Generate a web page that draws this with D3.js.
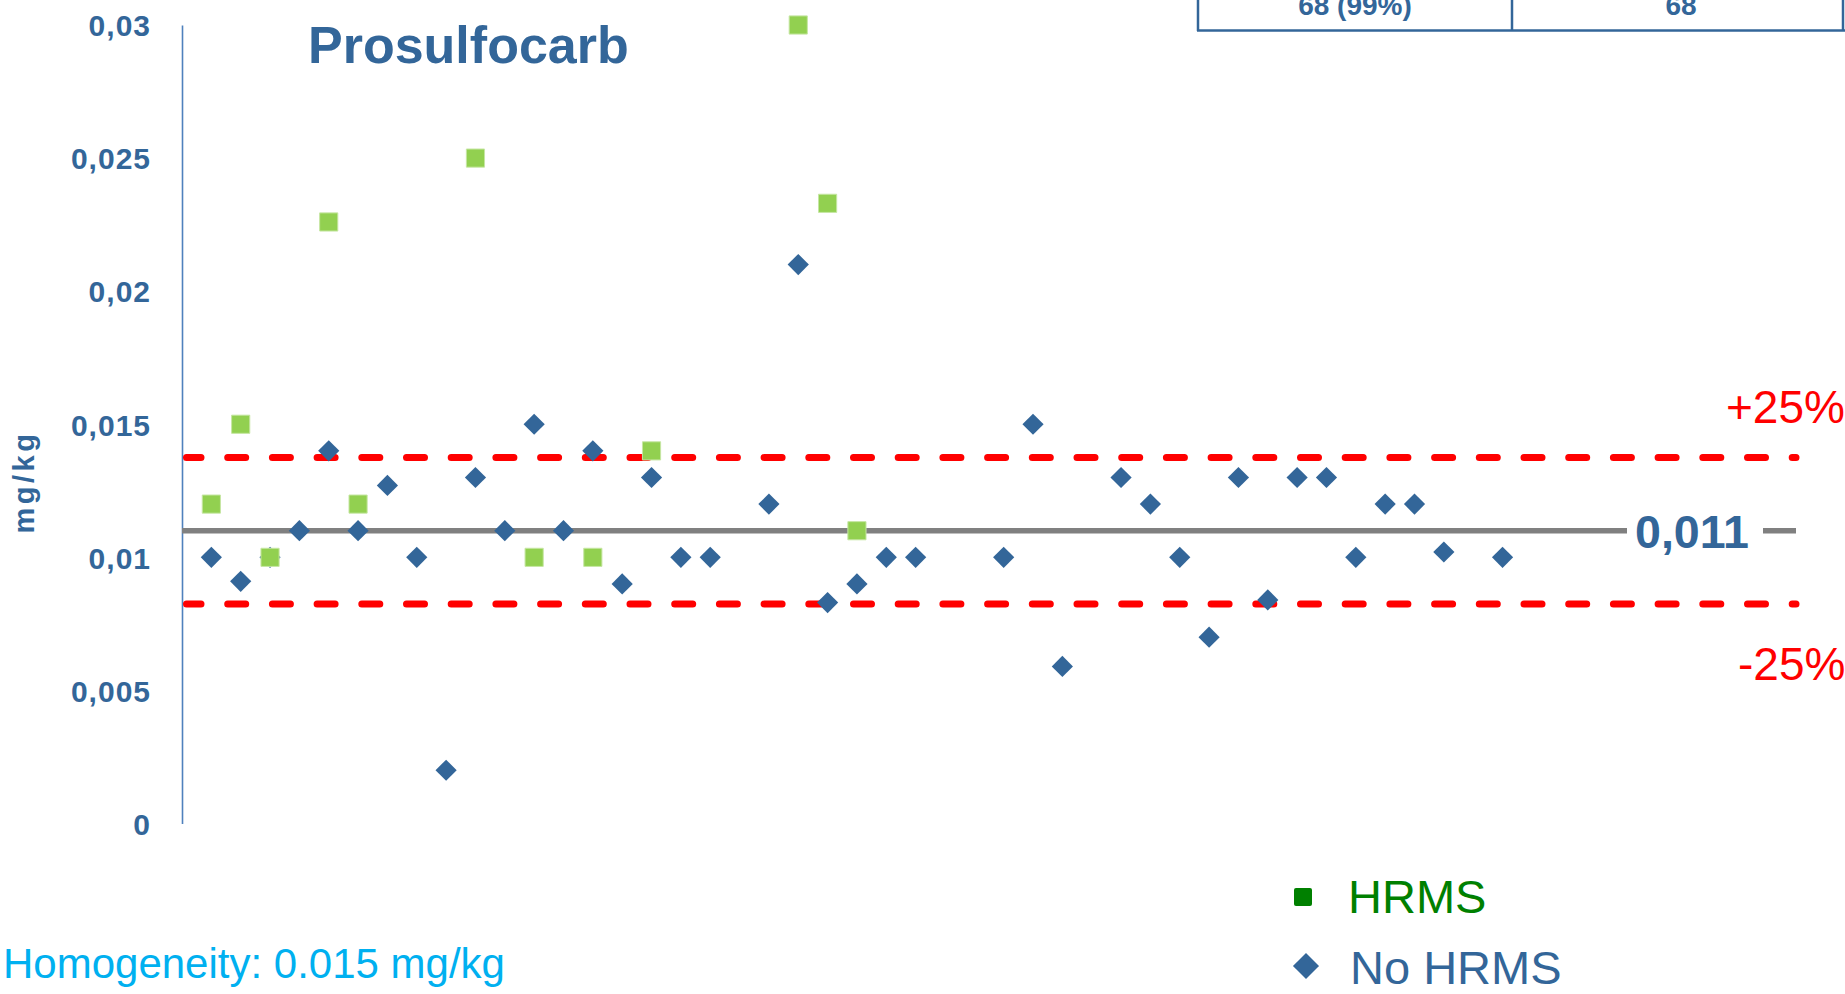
<!DOCTYPE html>
<html><head><meta charset="utf-8">
<script src="https://cdn.jsdelivr.net/npm/d3@7"></script>
<style>html,body{margin:0;padding:0;background:#fff;overflow:hidden}</style>
</head><body>
<svg id="chart" width="1845" height="994"></svg>
<script>
const chartTitle = "Prosulfocarb";
const yAxisTitle = "mg/kg";
const yTickValues = [0, 0.005, 0.01, 0.015, 0.02, 0.025, 0.03];
const yTickLabels = ["0", "0,005", "0,01", "0,015", "0,02", "0,025", "0,03"];
const hrmsLabs = [1, 2, 3, 5, 6, 10, 12, 14, 16, 21, 22, 23];
const hrmsValues = [0.012, 0.015, 0.010, 0.0226, 0.012, 0.025, 0.010, 0.010, 0.014, 0.030, 0.0233, 0.011];
const noHrmsLabs = [1, 2, 3, 4, 5, 6, 7, 8, 9, 10, 11, 12, 13, 14, 15, 16, 17, 18, 20, 21, 22, 23, 24, 25, 28, 29, 30, 32, 33, 34, 35, 36, 37, 38, 39, 40, 41, 42, 43, 45];
const noHrmsValues = [0.010, 0.0091, 0.010, 0.011, 0.014, 0.011, 0.0127, 0.010, 0.002, 0.013, 0.011, 0.015, 0.011, 0.014, 0.009, 0.013, 0.010, 0.010, 0.012, 0.021, 0.0083, 0.009, 0.010, 0.010, 0.010, 0.015, 0.0059, 0.013, 0.012, 0.010, 0.007, 0.013, 0.0084, 0.013, 0.013, 0.010, 0.012, 0.012, 0.0102, 0.010];
const assignedValue = 0.011;
const assignedLabel = "0,011";
const limitValues = [0.01375, 0.00825];
const limitLabels = ["+25%", "-25%"];
const legendLabels = ["HRMS", "No HRMS"];
const tableCells = ["68 (99%)", "68"];
const footnote = "Homogeneity: 0.015 mg/kg";

const BLUE = "#336699";
const svg = d3.select("#chart");
const x = d3.scaleLinear().domain([0, 55]).range([182, 1796]);
const y = d3.scaleLinear().domain([0, 0.03]).range([823.5, 25]);
const FONT = "'Liberation Sans', Arial, sans-serif";

// table fragment at top right
const tbl = svg.append("g");
[1198, 1512, 1843].forEach(xx => tbl.append("line").attr("x1", xx).attr("x2", xx).attr("y1", -5).attr("y2", 31)
  .attr("stroke", BLUE).attr("stroke-width", 2.5));
tbl.append("line").attr("x1", 1197).attr("x2", 1846).attr("y1", 30.5).attr("y2", 30.5).attr("stroke", BLUE).attr("stroke-width", 2.5);
tbl.selectAll("text.cell").data(tableCells).join("text").attr("class", "cell")
  .attr("x", (d, i) => [1355, 1681][i]).attr("y", 15).attr("text-anchor", "middle")
  .attr("font-family", FONT).attr("font-weight", "bold").attr("font-size", 28).attr("fill", BLUE).text(d => d);

// y axis
const yAxis = d3.axisLeft(y).tickValues(yTickValues).tickFormat((d, i) => yTickLabels[i]).tickSize(0).tickPadding(31);
const ag = svg.append("g").attr("transform", "translate(182,0)").call(yAxis);
ag.select(".domain").attr("stroke", "#4F81BD").attr("stroke-width", 1.6);
ag.selectAll(".tick text").attr("font-family", FONT).attr("font-weight", "bold").attr("font-size", 30)
  .attr("letter-spacing", 1).attr("fill", BLUE).attr("dy", "0.36em");

svg.append("text").attr("transform", "translate(34,482) rotate(-90)").attr("text-anchor", "middle")
  .attr("font-family", FONT).attr("font-weight", "bold").attr("font-size", 29).attr("letter-spacing", 3.5)
  .attr("fill", BLUE).text(yAxisTitle);

// title
svg.append("text").attr("x", 308).attr("y", 63).attr("font-family", FONT).attr("font-weight", "bold")
  .attr("font-size", 52).attr("fill", BLUE).text(chartTitle);

// assigned value line
svg.append("line").attr("x1", x(0)).attr("x2", x(55)).attr("y1", y(assignedValue)).attr("y2", y(assignedValue))
  .attr("stroke", "#808080").attr("stroke-width", 5.5);
svg.append("rect").attr("x", 1627).attr("y", y(assignedValue) - 30).attr("width", 136).attr("height", 60).attr("fill", "#fff");
svg.append("text").attr("x", 1635).attr("y", 548).attr("font-family", FONT).attr("font-weight", "bold").attr("font-size", 47)
  .attr("textLength", 114).attr("lengthAdjust", "spacingAndGlyphs")
  .attr("fill", BLUE).text(assignedLabel);

// limit lines
svg.selectAll("line.limit").data(limitValues).join("line").attr("class", "limit")
  .attr("x1", x(0) + 4.5).attr("x2", x(55)).attr("y1", d => y(d)).attr("y2", d => y(d))
  .attr("stroke", "#FF0000").attr("stroke-width", 7).attr("stroke-linecap", "round")
  .attr("stroke-dasharray", "18 26.7").attr("stroke-dashoffset", 3.5);
svg.selectAll("text.limitlab").data(limitLabels).join("text").attr("class", "limitlab")
  .attr("x", (d, i) => [1726, 1738][i]).attr("y", (d, i) => [423, 680][i])
  .attr("font-family", FONT).attr("font-size", 46).attr("fill", "#FF0000").text(d => d);

// No HRMS diamonds
const diamond = d3.symbol().type(d3.symbolSquare).size(225);
svg.append("g").selectAll("path").data(noHrmsLabs.map((l, i) => ({ l, v: noHrmsValues[i] }))).join("path")
  .attr("d", diamond).attr("transform", d => `translate(${x(d.l)},${y(d.v)}) rotate(45)`)
  .attr("fill", BLUE);

// HRMS squares
const square = d3.symbol().type(d3.symbolSquare).size(330);
svg.append("g").selectAll("path").data(hrmsLabs.map((l, i) => ({ l, v: hrmsValues[i] }))).join("path")
  .attr("d", square).attr("transform", d => `translate(${x(d.l)},${y(d.v)})`)
  .attr("fill", "#92D050").attr("stroke", "#C6E6A3").attr("stroke-width", 1);

// legend
svg.append("rect").attr("x", 1294).attr("y", 888).attr("width", 18).attr("height", 18).attr("rx", 2).attr("fill", "#008000");
svg.append("path").attr("d", d3.symbol().type(d3.symbolSquare).size(340)).attr("transform", "translate(1306,966) rotate(45)").attr("fill", BLUE);
svg.selectAll("text.leg").data(legendLabels).join("text").attr("class", "leg")
  .attr("x", (d, i) => [1348, 1350][i]).attr("y", (d, i) => [913, 984][i])
  .attr("font-family", FONT).attr("font-size", 47).attr("fill", (d, i) => i ? BLUE : "#008000").text(d => d);

// footnote
svg.append("text").attr("x", 3).attr("y", 978).attr("font-family", FONT).attr("font-size", 42)
  .attr("fill", "#00B0F0").text(footnote);
</script>
</body></html>
